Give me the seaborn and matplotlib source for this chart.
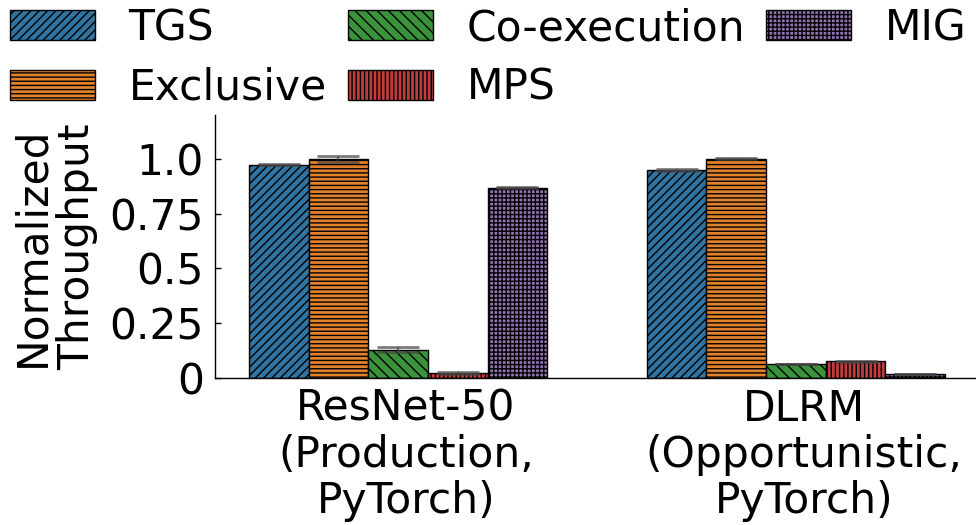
"""
Normalized throughput of TGS vs. other GPU sharing approaches
(ResNet-50 production job + DLRM opportunistic job).
"""
import matplotlib
matplotlib.use("Agg")
import matplotlib.pyplot as plt
import pandas as pd
import seaborn as sns

# Data
workloads = ["ResNet-50\n(Production,\nPyTorch)", "DLRM\n(Opportunistic,\nPyTorch)"]
methods = ["TGS", "Exclusive", "Co-execution", "MPS", "MIG"]
resnet_tput = [0.973, 1.0, 0.130, 0.024, 0.868]
dlrm_tput = [0.949, 1.0, 0.064, 0.076, 0.017]
resnet_err = [0.003, 0.013, 0.010, 0.005, 0.003]
dlrm_err = [0.004, 0.002, 0.002, 0.002, 0.001]

hatches = ["////", "----", "\\\\\\", "||||", "++++"]
colors = sns.color_palette("tab10", 5)

df = pd.DataFrame({
    "workload": [workloads[0]] * 5 + [workloads[1]] * 5,
    "method": methods * 2,
    "tput": resnet_tput + dlrm_tput,
    "err": resnet_err + dlrm_err,
})

sns.set_style("white")
plt.rcParams["font.family"] = ["DejaVu Sans"]
plt.rcParams["hatch.linewidth"] = 1.0
for key in ["text.color", "axes.labelcolor", "xtick.color", "ytick.color"]:
    plt.rcParams[key] = "black"

FS = 30.5

fig = plt.figure(figsize=(9.76, 5.25), dpi=100)
ax = fig.add_axes([0.2203, 0.28, 0.7787, 0.501])

sns.barplot(data=df, x="workload", y="tput", hue="method", order=workloads,
            hue_order=methods, palette=colors, width=0.75, errorbar=None,
            edgecolor="black", linewidth=1, legend=False, ax=ax)

bar_containers = list(ax.containers)

# hatches and precomputed error bars, per method container
for i, cont in enumerate(bar_containers):
    errs = df[df["method"] == methods[i]].set_index("workload").loc[workloads, "err"]
    for bar, e in zip(cont.patches, errs):
        bar.set_hatch(hatches[i])
        cx = bar.get_x() + bar.get_width() / 2
        ax.errorbar(cx, bar.get_height(), yerr=e, ecolor="#444444", alpha=0.7,
                    elinewidth=1.5, capsize=15, capthick=2, fmt="none")

ax.set_xlim(-0.46, 1.45)
ax.set_ylim(0, 1.2)
# labels in the original sit slightly right of the group centres
ax.set_xticks([0.02, 1.02], workloads)
ax.set_yticks([0, 0.25, 0.5, 0.75, 1.0])
ax.set_yticklabels(["0", "0.25", "0.5", "0.75", "1.0"])
ax.tick_params(axis="y", which="major", left=True, direction="in", length=4,
               width=1, pad=8, labelsize=FS)
ax.tick_params(axis="x", length=0, pad=7, labelsize=FS)
for lbl in ax.get_xticklabels():
    lbl.set_linespacing(1.12)
ax.set_xlabel("")
ax.set_ylabel("Normalized\nThroughput", fontsize=FS, labelpad=8, linespacing=1.1)

for side in ["top", "right"]:
    ax.spines[side].set_visible(False)
for side in ["left", "bottom"]:
    ax.spines[side].set_color("black")
    ax.spines[side].set_linewidth(1)

fig.legend(bar_containers, methods, loc="upper left", bbox_to_anchor=(-0.016, 1.035),
           ncol=3, frameon=False, fontsize=FS, columnspacing=0.5,
           handletextpad=0.8, labelspacing=0.42, borderaxespad=0.2)

fig.savefig("out.png", dpi=100)
